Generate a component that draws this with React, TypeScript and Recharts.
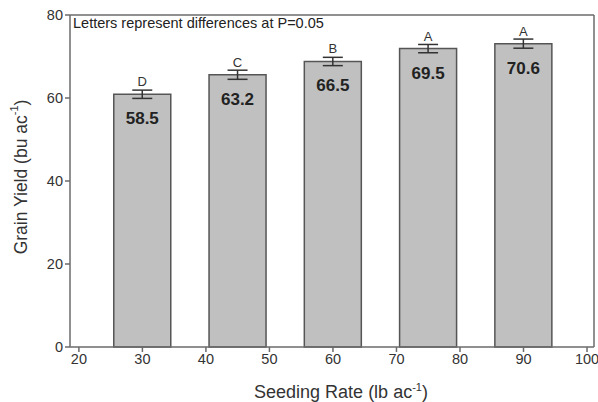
import {
  Bar,
  ComposedChart,
  ErrorBar,
  LabelList,
  ReferenceLine,
  XAxis,
  YAxis,
} from "recharts";

const seedingRates = [30, 45, 60, 75, 90];
const yieldBars = [60.9, 65.6, 68.8, 71.9, 73.1];
const yieldErrors = [1.0, 1.1, 1.0, 1.0, 1.1];
const meanLabels = ["58.5", "63.2", "66.5", "69.5", "70.6"];
const letters = ["D", "C", "B", "A", "A"];
const xTicks = [20, 30, 40, 50, 60, 70, 80, 90, 100];
const yTicks = [0, 20, 40, 60, 80];

const data = seedingRates.map((rate, i) => ({
  rate,
  yield: yieldBars[i],
  err: yieldErrors[i],
  mean: meanLabels[i],
  letter: letters[i],
}));

const FONT = "'Liberation Sans', Arial, sans-serif";
const AXIS = "#6b6b6b";
const TEXT = "#333";

const LetterLabel = (props: any) => {
  const { x, y, width, value } = props;
  return (
    <text
      x={x + width / 2}
      y={y - 8}
      textAnchor="middle"
      fontFamily={FONT}
      fontSize={13}
      fill={TEXT}
    >
      {value}
    </text>
  );
};

const MeanLabel = (props: any) => {
  const { x, y, width, value } = props;
  return (
    <text
      x={x + width / 2}
      y={y + 30}
      textAnchor="middle"
      fontFamily={FONT}
      fontSize={17}
      fontWeight="bold"
      fill="#222"
    >
      {value}
    </text>
  );
};

const YTitle = (props: any) => {
  const { viewBox } = props;
  const cx = 21;
  const cy = viewBox.y + viewBox.height / 2 - 4;
  return (
    <text
      x={cx}
      y={cy}
      transform={`rotate(-90 ${cx} ${cy})`}
      textAnchor="middle"
      dominantBaseline="central"
      fontFamily={FONT}
      fontSize={17.5}
      fill={TEXT}
    >
      Grain Yield (bu ac
      <tspan fontSize={11} dy={-7}>
        -1
      </tspan>
      <tspan dy={7}>)</tspan>
    </text>
  );
};

const XTitle = (props: any) => {
  const { viewBox } = props;
  const cx = viewBox.x + viewBox.width / 2 + 9;
  const cy = 398;
  return (
    <text
      x={cx}
      y={cy}
      textAnchor="middle"
      fontFamily={FONT}
      fontSize={18}
      fill={TEXT}
    >
      Seeding Rate (lb ac
      <tspan fontSize={11} dy={-7}>
        -1
      </tspan>
      <tspan dy={7}>)</tspan>
    </text>
  );
};

export default function App() {
  return (
    <div style={{ position: "absolute", left: 0, top: 0, background: "#fff" }}>
      <ComposedChart
        width={598}
        height={402}
        data={data}
        margin={{ top: 15, right: 4, bottom: 0, left: 0 }}
      >
        <XAxis
          dataKey="rate"
          type="number"
          domain={[18.6, 101.1]}
          ticks={xTicks}
          height={55}
          stroke={AXIS}
          strokeWidth={1.5}
          tickSize={5}
          tick={{ fontFamily: FONT, fontSize: 14.5, fill: TEXT }}
          label={<XTitle />}
        />
        <YAxis
          type="number"
          domain={[0, 80]}
          ticks={yTicks}
          width={70}
          stroke={AXIS}
          strokeWidth={1.5}
          tickSize={5}
          tick={{ fontFamily: FONT, fontSize: 14.5, fill: TEXT }}
          label={<YTitle />}
        />
        <ReferenceLine y={80} stroke={AXIS} strokeWidth={1.5} />
        <ReferenceLine x={101.1} stroke={AXIS} strokeWidth={1.5} />
        <ReferenceLine
          y={80}
          stroke="none"
          label={{
            value: "Letters represent differences at P=0.05",
            position: "insideTopLeft",
            offset: 3,
            fontFamily: FONT,
            fontSize: 14.5,
            fill: "#222",
          }}
        />
        <Bar
          dataKey="yield"
          barSize={57}
          fill="#c0c0c0"
          stroke="#555"
          strokeWidth={1.5}
          isAnimationActive={false}
        >
          <ErrorBar
            dataKey="err"
            direction="y"
            width={10}
            stroke="#333"
            strokeWidth={1.5}
          />
          <LabelList dataKey="letter" content={<LetterLabel />} />
          <LabelList dataKey="mean" content={<MeanLabel />} />
        </Bar>
      </ComposedChart>
    </div>
  );
}
